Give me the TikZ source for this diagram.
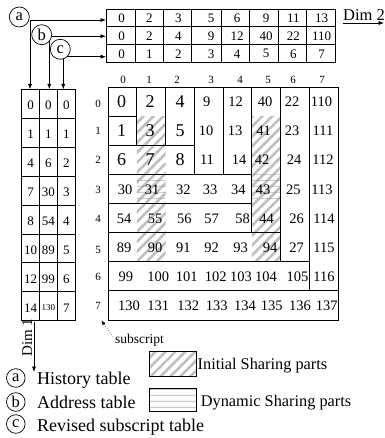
\documentclass[tikz,border=0pt]{standalone}
\usepackage{fontspec}
\setmainfont{Liberation Serif}
\usetikzlibrary{arrows.meta,patterns,patterns.meta}

% rows of small dots, used for the dynamically shared cells
\pgfdeclarepatternformonly{dotrows}{\pgfqpoint{0pt}{0pt}}{\pgfqpoint{2.4pt}{5.8pt}}{\pgfqpoint{2.4pt}{5.8pt}}{%
  \pgfpathcircle{\pgfqpoint{1.2pt}{1.6pt}}{0.75pt}\pgfusepath{fill}}

\newcommand\fsz[1]{\fontsize{#1}{#1}\selectfont}

\begin{document}
\begin{tikzpicture}[x=1pt,y=-1pt,
  box/.style={line width=0.95pt},
  rule/.style={line width=0.8pt},
  arr/.style={line width=0.7pt,-{Latex[length=5.5pt,width=4.2pt]}},
  tag/.style={circle,draw,line width=0.7pt,fill=white,minimum size=20pt,inner sep=0pt,font=\fsz{16.5}},
  ltag/.style={tag,minimum size=18.6pt},
  num/.style={inner sep=0pt,font=\fsz{14.5}},
  big/.style={inner sep=0pt,font=\fsz{18}},
  tnum/.style={inner sep=0pt,font=\fsz{13}},
  idx/.style={inner sep=0pt,font=\fsz{11}},
  lbl/.style={inner sep=0pt,anchor=base west},
  initshare/.style={pattern={Lines[angle=45,distance=7pt,line width=2.6pt]},pattern color=gray!50},
  dynshare/.style={pattern=dotrows,pattern color=gray!80},
]
\useasboundingbox (0,0) rectangle (384,438);

% ---------- main array ----------
\begin{scope}[shift={(108,87)},x=28.75pt,y=-29.125pt]
  \foreach \c in {1,5}{
    \fill[initshare] (\c,1) rectangle (\c+1,6);
    \fill[dynshare] (\c,3) rectangle (\c+1,4);
  }
  % one box per extension, in history order
  \foreach \a/\b/\c/\d in {0/0/1/1, 0/1/1/2, 1/0/2/2, 2/0/3/2, 0/2/3/3, 3/0/4/3, 4/0/5/3,
      0/3/5/4, 0/4/5/5, 5/0/6/5, 0/5/6/6, 6/0/7/6, 0/6/7/7, 7/0/8/7, 0/7/8/8}
    \draw[box] (\a,\b) rectangle (\c,\d);
\end{scope}

% cell contents
\foreach \x/\t [count=\i] in {121.7/0,150/2,180/4} \node[big] (m0b\i) at (\x,101.6) {\t};
\foreach \x/\t [count=\i] in {206.7/9,235.5/12,265/40,292/22,321.5/110} \node[num] (m0n\i) at (\x,101.6) {\t};
\foreach \x/\t [count=\i] in {121.7/1,150/3,180/5} \node[big] (m1b\i) at (\x,130.7) {\t};
\foreach \x/\t [count=\i] in {206/10,235/13,263.5/41,292/23,323/111} \node[num] (m1n\i) at (\x,130.7) {\t};
\foreach \x/\t [count=\i] in {121.7/6,150/7,180/8} \node[big] (m2b\i) at (\x,159.8) {\t};
\foreach \x/\t [count=\i] in {207/11,239/14,262/42,294/24,323/112} \node[num] (m2n\i) at (\x,159.8) {\t};
\foreach \x/\t [count=\i] in {125/30,152/31,183.3/32,210/33,238.3/34,263/43,293.3/25,322/113} \node[num] (m3n\i) at (\x,189.5) {\t};
\foreach \x/\t [count=\i] in {124/54,155/55,184.3/56,211.7/57,242.7/58,266.7/44,296.7/26,324/114} \node[num] (m4n\i) at (\x,218.5) {\t};
\foreach \x/\t [count=\i] in {124/89,155/90,183.3/91,211.7/92,240.5/93,270/94,296.7/27,324/115} \node[num] (m5n\i) at (\x,247.5) {\t};
\foreach \x/\t [count=\i] in {125.8/99,158.3/100,186.7/101,215.8/102,241/103,266/104,297.5/105,324/116} \node[num] (m6n\i) at (\x,277) {\t};
\foreach \x/\t [count=\i] in {129/130,158.3/131,188.3/132,216.7/133,245/134,271.7/135,300/136,326.7/137} \node[num] (m7n\i) at (\x,306) {\t};

% subscripts of the main array
\foreach \y [count=\i from 0] in {104,130.5,160,190,219.3,250,277.3,306} \node[idx] (ri\i) at (98,\y) {\i};
\foreach \x [count=\i from 0] in {123,149,177,211,240,268,293,322} \node[idx] (ci\i) at (\x,80) {\i};

% ---------- dimension-2 tables ----------
\draw[rule] (106,9) rectangle (335,62.7);
\foreach \x in {135,163.3,191.7,221.7,249.3,278.3,306.7} \draw[rule] (\x,9) -- (\x,62.7);
\foreach \y in {26.9,44.8} \draw[rule] (106,\y) -- (335,\y);
\foreach \x/\t [count=\i] in {121.7/0,149.3/2,178.3/3,211/5,237/6,266/9,293.3/11,321.7/13} \node[tnum] (ha\i) at (\x,18.3) {\t};
\foreach \x/\t [count=\i] in {121.7/0,149.3/2,178.3/4,211/9,237/12,266/40,293.3/22,321.7/110} \node[tnum] (ad\i) at (\x,36.4) {\t};
\foreach \x/\t [count=\i] in {121.7/0,149.3/1,178.3/2,211/3,237/4,266/5,293.3/6,321.7/7} \node[tnum] (rs\i) at (\x,53.8) {\t};

% ---------- dimension-1 tables ----------
\draw[rule] (21.7,89.3) rectangle (75,320.7);
\foreach \x in {39.3,57.3} \draw[rule] (\x,89.3) -- (\x,320.7);
\foreach \k in {1,...,7} \draw[rule] (21.7,89.3+28.93*\k) -- (75,89.3+28.93*\k);
\foreach \t [count=\i from 0] in {0,1,4,7,8,10,12,14} \node[tnum] (vh\i) at (30.6,105.3+28.93*\i) {\t};
\foreach \t [count=\i from 0] in {0,1,6,30,54,89,99} \node[tnum] (va\i) at (48.4,105.3+28.93*\i) {\t};
\node[inner sep=0pt,font=\fsz{9}] (va7) at (48.4,105.3+28.93*7) {130};
\foreach \i in {0,...,7} \node[tnum] (vr\i) at (66.4,105.3+28.93*\i) {\i};

% ---------- table pointers ----------
\coordinate (ka) at (30,20);    \coordinate (kb) at (49.3,36.2);  \coordinate (kc) at (63.3,56.7);
\coordinate (ta) at (106,20);   \coordinate (tb) at (106,36.2);   \coordinate (tc) at (106,56.7);
\coordinate (la) at (30,89.3);  \coordinate (lb) at (49.3,89.3);  \coordinate (lc) at (63.3,89.3);
\foreach \p in {a,b,c}{
  \draw[arr] (k\p) -- (t\p);
  \draw[arr] (k\p) -- (l\p);
}
\node[tag] (pa) at (19.3,17) {a};
\node[tag] (pb) at (41.7,34.7) {b};
\node[tag] (pc) at (60.3,49.3) {c};

% ---------- dimension arrows ----------
\node[lbl,font=\fsz{16.5}] (dim2) at (343,21) {Dim 2};
\coordinate (d2s) at (343,23); \coordinate (d2e) at (384,23);
\draw[arr] (d2s) -- (d2e);
\node[lbl,rotate=90,font=\fsz{15}] (dim1) at (32,357) {Dim 1};
\coordinate (d1s) at (34,322); \coordinate (d1e) at (34,372);
\draw[arr] (d1s) -- (d1e);

% ---------- subscript pointer ----------
\node[lbl,font=\fsz{13.5}] (sub) at (115,343.5) {subscript};
\coordinate (ss) at (113,337); \coordinate (st) at (101.5,320.5);
\draw[line width=0.5pt,dotted,-{Latex[length=4.5pt,width=3.6pt]}] (ss) -- (st);

% ---------- legend ----------
\node[ltag] (ga) at (15.8,378) {a};
\node[lbl,font=\fsz{18}] (gat) at (37,384.5) {History table};
\node[ltag] (gb) at (15.8,402) {b};
\node[lbl,font=\fsz{18}] (gbt) at (37,408.5) {Address table};
\node[ltag] (gc) at (15.8,424) {c};
\node[lbl,font=\fsz{18}] (gct) at (37,431) {Revised subscript table};

\draw[rule,initshare] (149.3,351.7) rectangle (196.7,376.7);
\node[lbl,font=\fsz{16.3}] (ini) at (197.5,369.5) {Initial Sharing parts};
\draw[rule,dynshare] (149.3,388) rectangle (196.7,411.7);
\node[lbl,font=\fsz{16.3}] (dyn) at (200.7,406) {Dynamic Sharing parts};
\end{tikzpicture}
\end{document}
